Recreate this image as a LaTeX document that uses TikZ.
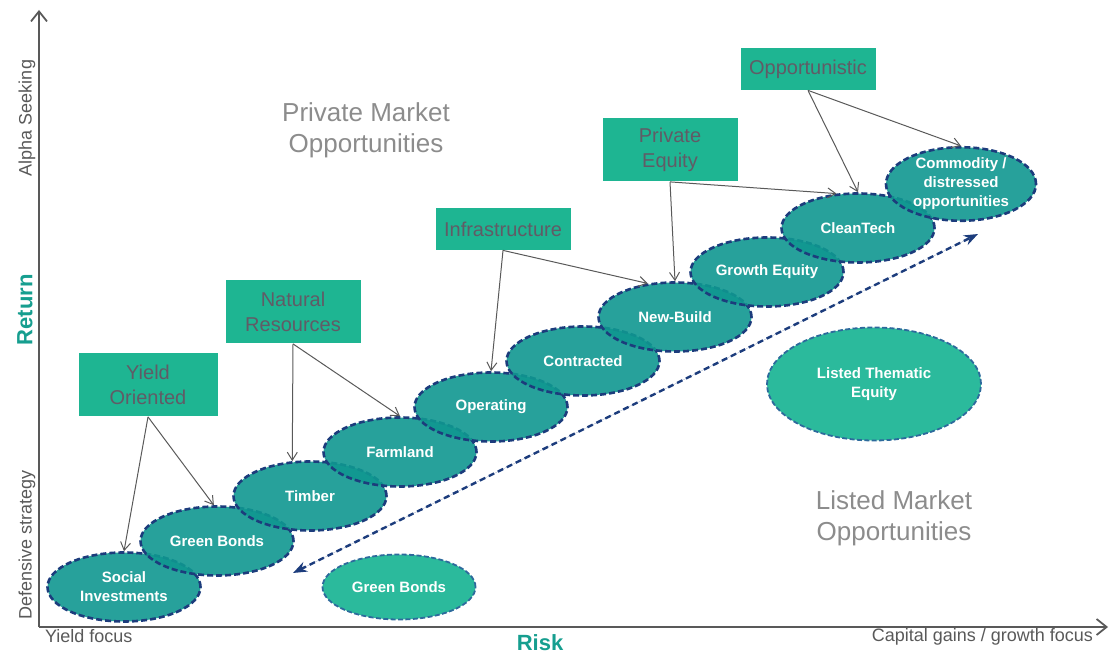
\documentclass[tikz,border=0pt]{standalone}
\usepackage{fontspec}
\setmainfont{Liberation Sans}
\setsansfont{Liberation Sans}
\usepackage{tikz}
\usetikzlibrary{positioning, arrows.meta, shapes.geometric}
\definecolor{boxTeal}{HTML}{1EB592}
\definecolor{ovalTeal}{HTML}{0F9790}
\definecolor{listedTeal}{HTML}{2BBA9C}
\definecolor{rimNavy}{HTML}{1C3C7C}
\definecolor{rimBlue}{HTML}{2D6A9C}
\definecolor{zoneGray}{HTML}{8C8C8C}
\definecolor{boxText}{HTML}{615B66}
\definecolor{axisGray}{HTML}{595959}
\definecolor{titleTeal}{HTML}{169E8F}

\begin{document}
\begin{tikzpicture}[
  x=0.5pt, y=-0.5pt,
  every node/.style={font=\sffamily},
  stylebox/.style={
    rectangle, fill=boxTeal, text=boxText,
    minimum width=67.5pt, minimum height=#1, inner sep=1pt,
    align=center, font=\sffamily\fontsize{10}{12.5}\selectfont
  },
  stylebox/.default=31.5pt,
  oval/.style={
    ellipse, fill=#1, fill opacity=0.9, text opacity=1,
    draw=rimNavy, dash pattern=on 3pt off 1.5pt, line width=1.3pt,
    minimum width=76.5pt, minimum height=34.5pt, inner sep=0pt,
    text=white, align=center,
    font=\sffamily\bfseries\fontsize{7.5}{9.5}\selectfont
  },
  oval/.default=ovalTeal,
  listedoval/.style={oval=listedTeal, fill opacity=1, draw=rimBlue, line width=0.9pt,
    dash pattern=on 2.5pt off 1.2pt},
  feed/.style={-{Straight Barb[length=4pt, width=5pt]}, draw=axisGray, line width=0.5pt},
  axis/.style={-{Straight Barb[length=5pt, width=8pt]}, draw=axisGray, line width=0.9pt},
  axislabel/.style={font=\sffamily\fontsize{9}{11}\selectfont, text=axisGray},
  axistitle/.style={font=\sffamily\bfseries\fontsize{11}{13}\selectfont, text=titleTeal},
  zone/.style={font=\sffamily\fontsize{13}{15.5}\selectfont, text=zoneGray, align=center},
]
\useasboundingbox (0,0) rectangle (1111,656);

% === AXES ===
\coordinate (origin) at (39,627);
\coordinate (ytop) at (39,10);
\coordinate (xend) at (1108,627);
\draw[axis] (origin) -- (ytop);
\draw[axis] (origin) -- (xend);

\node[axislabel, rotate=90] (alpha) at (27,118) {Alpha Seeking};
\node[axistitle, rotate=90] (ret) at (25,310) {Return};
\node[axislabel, rotate=90] (defend) at (27,545) {Defensive strategy};
\node[axislabel, anchor=west] (yfocus) at (38,636) {Yield focus};
\node[axistitle] (risk) at (540,643) {Risk};
\node[axislabel, anchor=east] (gfocus) at (1100,637) {Capital gains / growth focus};

% === ZONE LABELS ===
\node[zone] (private) at (366,130) {Private Market\\Opportunities};
\node[zone] (listed) at (894,518) {Listed Market\\Opportunities};

% === STRATEGY BOXES ===
\node[stylebox, minimum width=69.5pt] (yo) at (148,385) {Yield\\Oriented};
\node[stylebox] (nr) at (293,312) {Natural\\Resources};
\node[stylebox=21pt] (inf) at (503,229) {Infrastructure};
\node[stylebox] (pe) at (670,150) {Private\\Equity};
\node[stylebox=21pt] (opp) at (808,69) {Opportunistic};

% === PRIVATE MARKET OVALS ===
\node[oval] (si) at (124,587) {Social\\Investments};
\node[oval] (gb) at (217,541) {Green Bonds};
\node[oval] (tb) at (310,496) {Timber};
\node[oval] (fl) at (400,452) {Farmland};
\node[oval] (op) at (491,407) {Operating};
\node[oval] (ct) at (583,361) {Contracted};
\node[oval] (nb) at (675,317) {New-Build};
\node[oval] (ge) at (767,272) {Growth Equity};
\node[oval] (cl) at (858,228) {CleanTech};
\node[oval, minimum width=75pt, minimum height=36.5pt] (cd) at (961,184) {Commodity /\\distressed\\opportunities};

% === LISTED MARKET OVALS ===
\node[listedoval, minimum height=32.5pt] (lgb) at (399,587) {Green Bonds};
\node[listedoval, minimum width=107pt, minimum height=56.5pt] (lte) at (874,384) {Listed Thematic\\Equity};

% === FEED ARROWS ===
\draw[feed] (yo.south) -- (si.north);
\draw[feed] (yo.south) -- (gb.95);
\draw[feed] (nr.south) -- (tb.117);
\draw[feed] (nr.south) -- (fl.north);
\draw[feed] (inf.south) -- (op.north);
\draw[feed] (inf.south) -- (nb.129);
\draw[feed] (pe.south) -- (nb.north);
\draw[feed] (pe.south) -- (cl.122);
\draw[feed] (opp.south) -- (cl.north);
\draw[feed] (opp.south) -- (cd.north);

% === RISK / RETURN ARROW ===
\coordinate (lowend) at (293,573);
\coordinate (highend) at (978,234);
\draw[{Stealth[length=7pt]}-{Stealth[length=7pt]}, draw=rimNavy, fill=rimNavy,
  line width=1.2pt, dash pattern=on 3pt off 2pt] (lowend) -- (highend);

\end{tikzpicture}
\end{document}
